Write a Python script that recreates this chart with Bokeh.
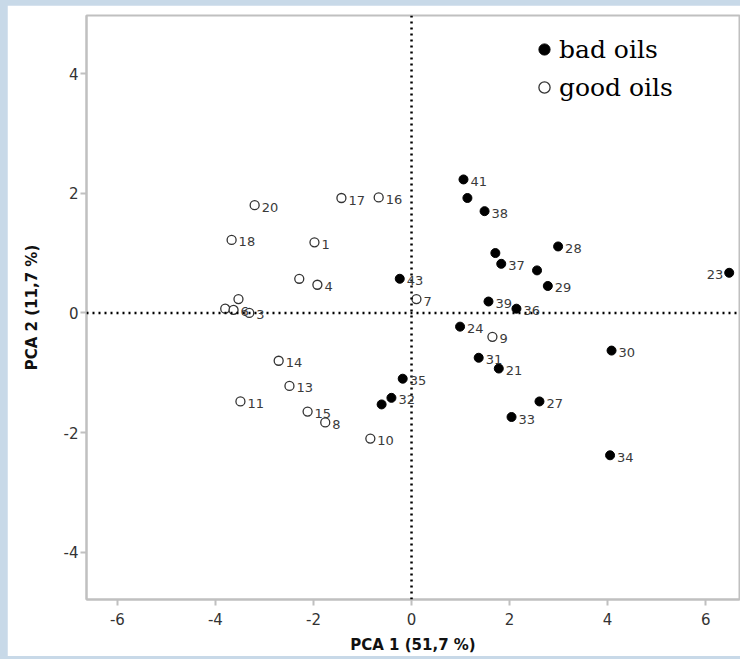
from bokeh.plotting import figure
from bokeh.models import (ColumnDataSource, FixedTicker, Span, Legend, LegendItem,
                          LabelSet, Range1d, GlobalInlineStyleSheet)
from bokeh.core.properties import value
from bokeh.embed import file_html
from bokeh.resources import INLINE

# ---- data ----
good_labels = ["1", "", "3", "4", "", "6", "7", "8", "9", "10", "11", "", "13", "14", "15", "16", "17", "18", "20"]
good_pc1 = [-1.98, -3.80, -3.31, -1.92, -3.53, -3.63, 0.10, -1.76, 1.65, -0.84, -3.49, -2.29, -2.49, -2.71, -2.12, -0.67, -1.43, -3.67, -3.20]
good_pc2 = [1.18, 0.07, 0.00, 0.47, 0.23, 0.05, 0.23, -1.83, -0.40, -2.10, -1.48, 0.57, -1.22, -0.80, -1.65, 1.93, 1.92, 1.22, 1.80]

bad_labels = ["21", "", "23", "24", "", "", "27", "28", "29", "30", "31", "32", "33", "34", "35", "36", "37", "38", "39", "", "41", "43"]
bad_pc1 = [1.78, 1.14, 6.48, 0.99, 2.56, 1.71, 2.61, 2.99, 2.78, 4.08, 1.37, -0.41, 2.04, 4.05, -0.18, 2.14, 1.83, 1.49, 1.57, -0.61, 1.06, -0.24]
bad_pc2 = [-0.93, 1.92, 0.67, -0.23, 0.71, 1.00, -1.48, 1.11, 0.45, -0.63, -0.75, -1.42, -1.74, -2.38, -1.10, 0.07, 0.82, 1.70, 0.19, -1.53, 2.23, 0.57]
left_side_labels = ["23"]

x_ticks = [-6, -4, -2, 0, 2, 4, 6]
x_tick_labels = ["-6", "-4", "-2", "0", "2", "4", "6"]
y_ticks = [-4, -2, 0, 2, 4]
y_tick_labels = ["-4", "-2", "0", "2", "4"]

x_title = "PCA 1 (51,7 %)"
y_title = "PCA 2 (11,7 %)"
legend_names = ["bad oils", "good oils"]

FONT = "DejaVu Sans"

p = figure(width=733, height=651, output_backend="svg", toolbar_location=None,
           x_range=Range1d(-6.63, 6.69), y_range=Range1d(-4.79, 4.97),
           min_border_left=79, min_border_right=1, min_border_top=10, min_border_bottom=54,
           background_fill_color="white", border_fill_color="white")
p.stylesheets = [GlobalInlineStyleSheet(
    css="html, body { background: #c8d9e8 !important; } body { padding: 5px 0 0 7px !important; box-sizing: border-box; overflow: hidden; }")]

p.xgrid.visible = False
p.ygrid.visible = False
p.outline_line_color = "#c0c0c0"
p.outline_line_width = 2

for ax, ticks, labs in ((p.xaxis[0], x_ticks, x_tick_labels), (p.yaxis[0], y_ticks, y_tick_labels)):
    ax.ticker = FixedTicker(ticks=ticks)
    ax.major_label_overrides = {t: l for t, l in zip(ticks, labs)}
    ax.minor_tick_line_color = None
    ax.major_tick_in = 0
    ax.major_tick_out = 6
    ax.major_tick_line_color = "#c0c0c0"
    ax.major_tick_line_width = 2
    ax.axis_line_color = "#c0c0c0"
    ax.axis_line_width = 2
    ax.major_label_text_font = FONT
    ax.major_label_text_font_size = "15px"
    ax.major_label_text_color = "#333333"
    ax.axis_label_text_font = FONT
    ax.axis_label_text_font_style = "bold"
    ax.axis_label_text_font_size = "15px"
    ax.axis_label_text_color = "#111111"

p.xaxis.axis_label = x_title
p.yaxis.axis_label = y_title
p.xaxis.major_label_standoff = 7
p.xaxis.axis_label_standoff = 8
p.yaxis.major_label_standoff = 2
p.yaxis.axis_label_standoff = 20

# dotted zero lines
for dim in ("width", "height"):
    p.add_layout(Span(location=0, dimension=dim, line_color="black",
                      line_width=2.5, line_dash="2 4"))

good_src = ColumnDataSource(dict(x=good_pc1, y=good_pc2, t=good_labels))
bad_src = ColumnDataSource(dict(x=bad_pc1, y=bad_pc2, t=bad_labels))

r_good = p.scatter("x", "y", marker="circle", size=9, fill_color="white",
                   line_color="#333333", line_width=1.3, source=good_src)
r_bad = p.scatter("x", "y", marker="circle", size=9, fill_color="black",
                  line_color="black", source=bad_src)

# labels: right of point by default, some to the left
def split(src_x, src_y, labs):
    r = dict(x=[], y=[], t=[])
    l = dict(x=[], y=[], t=[])
    for xx, yy, tt in zip(src_x, src_y, labs):
        d = l if tt in left_side_labels else r
        d["x"].append(xx); d["y"].append(yy); d["t"].append(tt)
    return r, l

r1, l1 = split(good_pc1, good_pc2, good_labels)
r2, l2 = split(bad_pc1, bad_pc2, bad_labels)
right = {k: r1[k] + r2[k] for k in r1}
left = {k: l1[k] + l2[k] for k in l1}

common = dict(text_font=value(FONT), text_font_size="13px", text_color="#3a3a3a",
              text_baseline="middle")
p.add_layout(LabelSet(x="x", y="y", text="t", source=ColumnDataSource(right),
                      x_offset=7, y_offset=-2, text_align="left", **common))
p.add_layout(LabelSet(x="x", y="y", text="t", source=ColumnDataSource(left),
                      x_offset=-6, y_offset=-2, text_align="right", **common))

legend = Legend(items=[LegendItem(label=legend_names[0], renderers=[r_bad]),
                       LegendItem(label=legend_names[1], renderers=[r_good])],
                location=(444, 493), border_line_color=None, background_fill_alpha=0,
                padding=0, margin=0, spacing=0, glyph_width=28, glyph_height=38,
                label_standoff=1, label_text_font="DejaVu Serif", label_text_font_size="25px",
                label_text_color="black", label_height=38)
p.add_layout(legend)

open("out.html", "w").write(file_html(p, INLINE))
